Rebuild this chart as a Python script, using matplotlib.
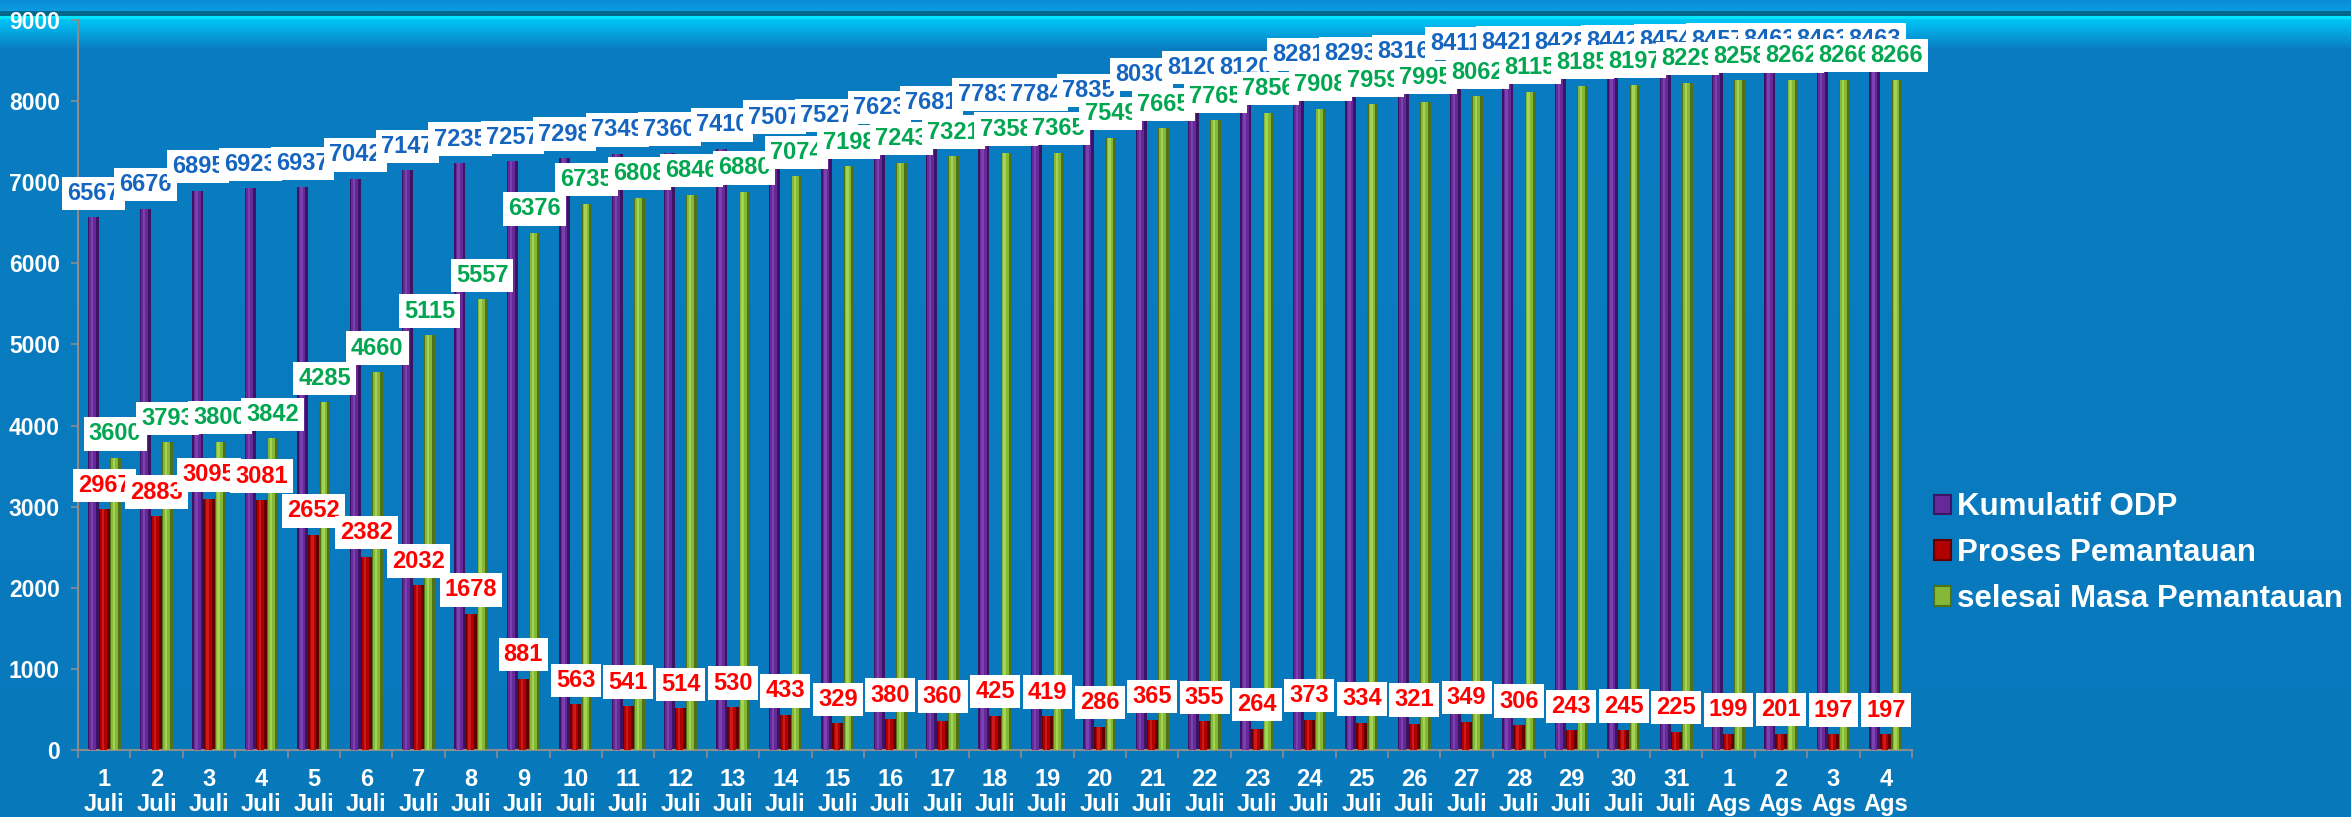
import numpy as np
import matplotlib
matplotlib.use("Agg")
import matplotlib.pyplot as plt
from matplotlib.patches import Patch
from matplotlib.colors import to_rgb
from matplotlib import font_manager as fm

# ---------------- data ----------------
day_numbers = [str(d) for d in range(1, 32)] + ["1", "2", "3", "4"]
months = ["Juli"] * 31 + ["Ags"] * 4
categories = [f"{d}\n{m}" for d, m in zip(day_numbers, months)]

kumulatif_odp = [6567, 6676, 6895, 6923, 6937, 7042, 7147, 7235, 7257, 7298,
                 7349, 7360, 7410, 7507, 7527, 7623, 7681, 7783, 7784, 7835,
                 8030, 8120, 8120, 8281, 8293, 8316, 8411, 8421, 8428, 8442,
                 8454, 8457, 8463, 8463, 8463]
proses_pemantauan = [2967, 2883, 3095, 3081, 2652, 2382, 2032, 1678, 881, 563,
                     541, 514, 530, 433, 329, 380, 360, 425, 419, 286,
                     365, 355, 264, 373, 334, 321, 349, 306, 243, 245,
                     225, 199, 201, 197, 197]
selesai_pemantauan = [3600, 3793, 3800, 3842, 4285, 4660, 5115, 5557, 6376, 6735,
                      6808, 6846, 6880, 7074, 7198, 7243, 7321, 7358, 7365, 7549,
                      7665, 7765, 7856, 7908, 7959, 7995, 8062, 8115, 8185, 8197,
                      8229, 8258, 8262, 8266, 8266]
series_names = ["Kumulatif ODP", "Proses Pemantauan", "selesai Masa Pemantauan"]
y_ticks = [0, 1000, 2000, 3000, 4000, 5000, 6000, 7000, 8000, 9000]

# ---------------- style ----------------
plt.rcParams['font.family'] = ['Liberation Sans', 'DejaVu Sans']
plt.rcParams['font.weight'] = 'bold'

available = {f.name for f in fm.fontManager.ttflist}
if 'Liberation Sans Narrow' in available:
    narrow = ['Liberation Sans Narrow', 'DejaVu Sans']
    lab_size = 19
else:
    narrow = ['Liberation Sans', 'DejaVu Sans']
    lab_size = 17

W, H, DPI = 2351, 817, 100
fig = plt.figure(figsize=(W / DPI, H / DPI), dpi=DPI)

def lerp(c1, c2, t):
    a, b = np.array(to_rgb(c1)), np.array(to_rgb(c2))
    return a + (b - a) * t

rows = np.zeros((H, 1, 3))
for y in range(H):
    if y < 11:
        c = lerp("#0A8CD4", "#0A9CE2", y / 11)
    elif y < 16:
        c = np.array(to_rgb("#05688E"))
    elif y < 19:
        c = np.array(to_rgb("#00E4FF"))
    elif y < 48:
        c = lerp("#00C6F6", "#0A7EC4", (y - 19) / 29)
    else:
        c = lerp("#0A7CC1", "#0779BB", (y - 48) / (H - 48))
    rows[y, 0] = c
bg = fig.add_axes([0, 0, 1, 1], zorder=-10)
bg.imshow(rows, aspect='auto', extent=[0, 1, 0, 1], interpolation='bilinear')
bg.axis('off')

ax = fig.add_axes([78 / W, (H - 750) / H, (1912 - 78) / W, (750 - 20) / H])
ax.set_facecolor('none')

x = np.arange(len(categories))
bw = 0.21
specs = [
    (kumulatif_odp, -bw, ("#3B1463", "#652A98", "#8246B8"), "#1565C0"),
    (proses_pemantauan, 0.0, ("#650000", "#B00000", "#D42020"), "#FF0000"),
    (selesai_pemantauan, bw, ("#4F7119", "#86B838", "#AEDA5E"), "#00A650"),
]

for vals, off, (dark, mid, hi), _ in specs:
    ax.bar(x + off, vals, width=bw, color=dark, zorder=2, linewidth=0)
    ax.bar(x + off - bw * 0.08, vals, width=bw * 0.62, color=mid, zorder=3, linewidth=0)
    ax.bar(x + off - bw * 0.12, vals, width=bw * 0.22, color=hi, zorder=4, linewidth=0, alpha=0.8)

for vals, off, _, tcol in specs:
    for xi, v in zip(x, vals):
        ax.annotate(f"{v}", xy=(xi + off, v), xytext=(0, 9), textcoords='offset points',
                    ha='center', va='bottom', fontsize=lab_size, fontweight='bold', color=tcol,
                    family=narrow,
                    bbox=dict(boxstyle='square,pad=0.22', fc='white', ec='none'),
                    zorder=10, annotation_clip=False)

ax.set_xlim(-0.5, len(categories) - 0.5)
ax.set_ylim(0, 9000)
ax.set_yticks(y_ticks)
ax.set_yticklabels([str(t) for t in y_ticks])
ax.set_xticks(x)
ax.set_xticklabels(categories, linespacing=1.1)
ax.set_xticks(np.arange(-0.5, len(categories), 1.0), minor=True)

for s in ['top', 'right']:
    ax.spines[s].set_visible(False)
for s in ['left', 'bottom']:
    ax.spines[s].set_color('#8C8C8C')
    ax.spines[s].set_linewidth(1.5)

ax.tick_params(axis='y', colors='#8C8C8C', length=5, width=1.2, pad=8,
               labelcolor='white', labelsize=16.5)
ax.tick_params(axis='x', which='major', length=0, pad=13, labelcolor='white', labelsize=17)
ax.tick_params(axis='x', which='minor', length=6, width=1.2, colors='#8C8C8C')
for lbl in ax.get_xticklabels():
    lbl.set_fontweight('bold')
    lbl.set_family(narrow)
    lbl.set_fontsize(19 if narrow[0].endswith('Narrow') else 17)
for lbl in ax.get_yticklabels():
    lbl.set_fontweight('bold')

handles = [Patch(facecolor=specs[i][2][1], edgecolor=specs[i][2][0], linewidth=1.5)
           for i in range(3)]
leg = fig.legend(handles, series_names, loc='center left', bbox_to_anchor=(0.8225, 0.323),
                 frameon=False, fontsize=22.5, labelcolor='white', handlelength=0.55,
                 handleheight=0.6, handletextpad=0.2, labelspacing=0.5, borderpad=0,
                 borderaxespad=0)
for t in leg.get_texts():
    t.set_fontweight('bold')

fig.savefig("out.png", dpi=DPI)
